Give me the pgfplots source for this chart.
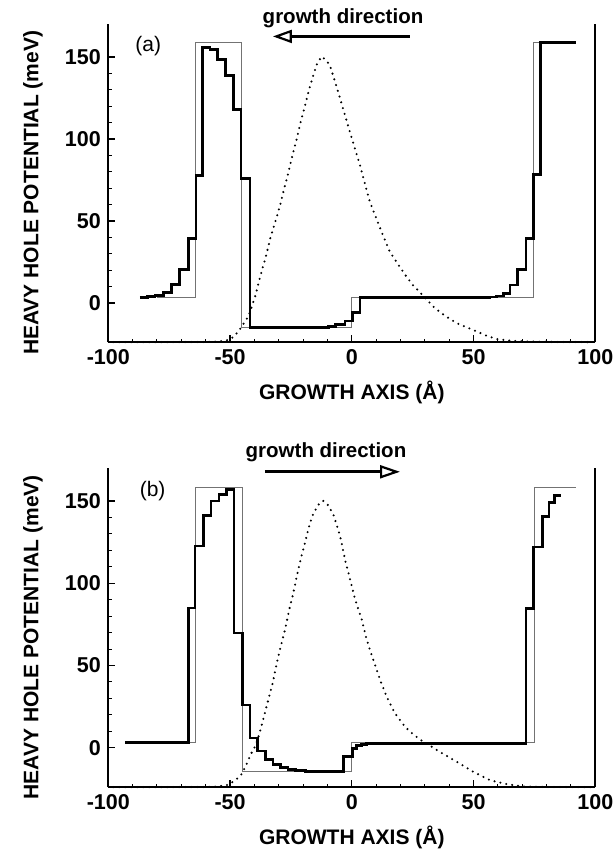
\documentclass[border=0pt]{standalone}
\usepackage{fontspec}
\setmainfont{Liberation Sans}
\usepackage{pgfplots}
\pgfplotsset{compat=1.18}
\usetikzlibrary{arrows.meta}

\pgfplotsset{
  myax/.style={
    scale only axis, width=487pt,
    xmin=-100, xmax=100, ymin=-24, ymax=170,
    axis x line*=bottom, axis y line*=box,
    ytick pos=left, xtick pos=bottom,
    axis line style={line width=1.8pt},
    tick align=inside,
    xtick={-100,-50,0,50,100}, xticklabels={-100,-50,0,50,100},
    ytick={0,50,100,150}, yticklabels={0,50,100,150},
    minor x tick num=4, minor y tick num=4,
    major tick length=7pt, minor tick length=3.5pt,
    every major tick/.style={line width=1.2pt, black},
    every minor tick/.style={line width=1pt, black},
    ticklabel style={font=\bfseries\fontsize{21.5}{24}\selectfont},
    xticklabel style={yshift=-4pt},
    yticklabel style={xshift=-4pt},
    xlabel={GROWTH AXIS (Å)},
    ylabel={HEAVY HOLE POTENTIAL (meV)},
    label style={font=\bfseries\fontsize{21}{24}\selectfont},
    xlabel style={at={(axis description cs:0.5,0)}, anchor=center, yshift=-50pt},
    ylabel style={at={(axis description cs:-0.1546,0.47)}, anchor=center},
    clip=false,
  },
  thick prof/.style={const plot mark left, line width=2.8pt, black, no markers},
  thin prof/.style={const plot mark left, line width=0.8pt, black!55, no markers},
  dot prof/.style={line width=2.3pt, black, dash pattern=on 0pt off 6pt, line cap=round, no markers},
}

\begin{document}
\begin{tikzpicture}
\useasboundingbox (-108.3pt,342.3pt) rectangle (504.7pt,-506.7pt);

% ---------------- panel (a) ----------------
\begin{axis}[myax, height=318pt, at={(0pt,0pt)}, anchor=south west]
\addplot[thin prof] coordinates {
(-80,3.4) (-64.4,159) (-45.3,-15) (0,3.3) (74.5,159) (92,159)};
\addplot[dot prof] coordinates {
(-98,-23.9) (-80,-23.9) (-60,-23.8) (-55,-23.5) (-52.5,-23) (-50.3,-22.5) (-48.5,-20.5)
(-46.6,-17.4) (-44.6,-13) (-42.5,-8.2) (-41,-2) (-39.5,5) (-38,14) (-36.5,22) (-35,30)
(-33.6,38.8) (-31.5,49.1) (-29.5,59.3) (-27.8,69.5) (-26.0,79.8) (-24.4,89.9)
(-22.6,100.2) (-21.0,110.4) (-19.2,120.6) (-17.4,130.9) (-15.8,139) (-14.2,146.2)
(-12.4,150.3) (-10.5,148) (-9,145) (-6.9,135) (-4.8,124.7) (-2.8,114.5) (-0.7,104)
(1.3,94) (3.4,83.8) (5.4,72.6) (7.5,61.3) (10.2,51.1) (12.9,40.9) (15.7,31)
(18.8,24) (22,17) (25,11) (28,6.5) (30.5,2.5) (34,-3) (38,-7.5) (43,-12.3)
(50,-16.6) (55.4,-20) (59.5,-22) (66,-23.2) (77,-23.7) (98,-23.9)};
\addplot[thick prof] coordinates {
(-87,3.4) (-84,3.7) (-80.8,4.5) (-77.4,6.3) (-74.0,11.2) (-70.6,20.2) (-67.1,39.4)
(-64.0,77.7) (-61.2,156) (-58.2,154.4) (-55.1,148.6) (-51.8,138.6) (-48.7,118)
(-45.5,76) (-41.8,-15.2) (-13,-14.8) (-9.5,-14.2) (-6.8,-13) (-2.8,-11) (0.2,-6)
(3.4,3.3) (56.5,3.6) (59.5,4.2) (62.2,5.8) (65.0,11.0) (68.1,20.3) (71.5,39.4)
(74.5,78.5) (77.6,159) (92,159)};
\node[font=\fontsize{21}{24}\selectfont] at (axis cs:-83.6,156.9) {(a)};
\node[font=\bfseries\fontsize{20.5}{24}\selectfont] at (axis cs:-3.6,173.8) {growth direction};
\draw[line width=2.6pt, -{Triangle[open, length=19pt, width=13pt, line width=2.2pt]}]
  (axis cs:23.9,162.6) -- (axis cs:-32.4,162.6);
\end{axis}

% ---------------- panel (b) ----------------
\begin{axis}[myax, height=319.3pt, at={(0pt,-445pt)}, anchor=south west]
\addplot[thin prof] coordinates {
(-67,3.3) (-64.4,158.2) (-45,-14.2) (0,3.3) (74.8,158.2) (92,158.2)};
\addplot[dot prof] coordinates {
(-98,-23.9) (-80,-23.9) (-60,-23.8) (-55,-23.5) (-51,-22.5) (-48,-20) (-45.5,-16.5)
(-43.5,-11) (-41.5,-4) (-39.3,2) (-37.7,9.8) (-36.1,18.9) (-34.3,29.1) (-32.5,39.3)
(-30.8,51.5) (-29.2,61.6) (-27.4,71.8) (-25.7,84) (-24.0,94.1) (-22.6,104.3)
(-21.0,114.5) (-19.2,124.6) (-17.9,132.7) (-16.2,140.9) (-14.4,146) (-13.1,149)
(-11.7,150) (-9.8,147.5) (-7.6,141.9) (-4.8,128.7) (-2.8,114.5) (-0.7,102.3)
(1.4,90) (4.1,77.9) (6.1,65.7) (8.8,53.5) (11.6,41.3) (14.3,31.1) (17.7,21)
(21.8,12.8) (25,8.5) (28,5) (30.5,2.8) (36.2,-2.5) (43.1,-8.5) (49.9,-14.6)
(56.8,-19.7) (63.6,-22.1) (70.4,-23.5) (80,-23.8) (98,-23.9)};
\addplot[thick prof] coordinates {
(-93.1,3.3) (-67.1,85.0) (-64.4,122.6) (-61.0,140.9) (-57.8,150) (-54.5,154)
(-51.4,156.7) (-48.4,69.8) (-44.8,26) (-41.8,6) (-38.6,-2) (-35.5,-7) (-32.4,-10)
(-29.3,-12) (-26.2,-13.3) (-23,-14) (-19,-14.3) (-3.5,-5.3) (0.2,-0.4) (2,1.2)
(4,2.2) (6.1,2.8) (71.5,84.6) (74.6,122) (78.4,140.5) (81.0,149) (83.4,153.5)
(85.8,153.5)};
\node[font=\fontsize{21}{24}\selectfont] at (axis cs:-81.8,155.7) {(b)};
\node[font=\bfseries\fontsize{20.5}{24}\selectfont] at (axis cs:-10.6,179.7) {growth direction};
\draw[line width=2.6pt, -{Triangle[open, length=20pt, width=13pt, line width=2.2pt]}]
  (axis cs:-35.7,167.7) -- (axis cs:19.8,167.7);
\end{axis}
\end{tikzpicture}
\end{document}
